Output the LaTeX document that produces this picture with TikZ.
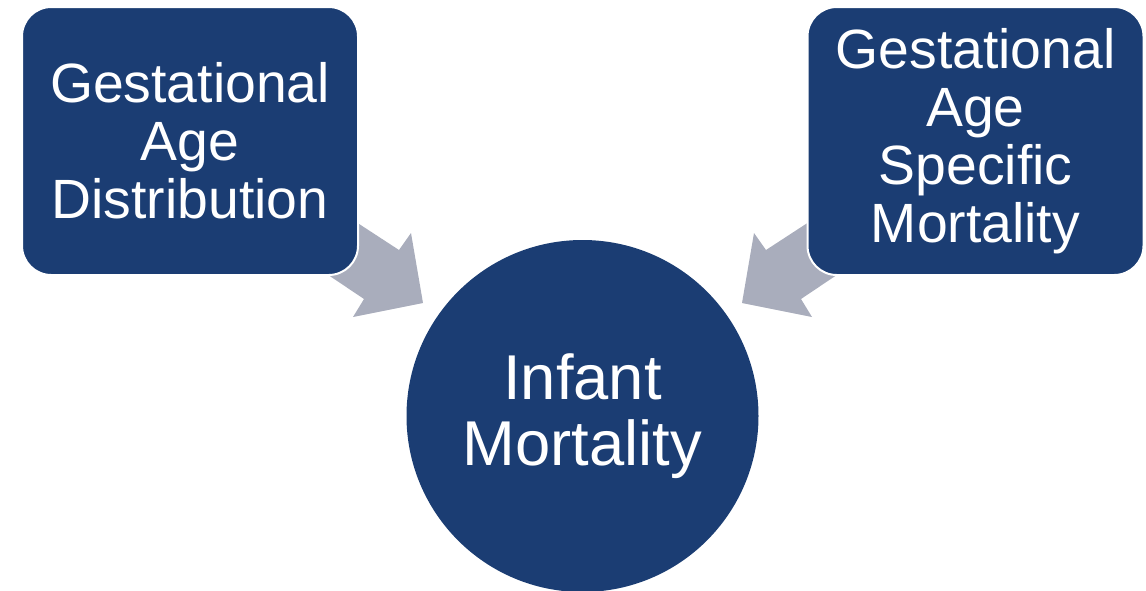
\documentclass[tikz,border=0pt]{standalone}
\usepackage{fontspec}
\setmainfont{Liberation Sans}
\definecolor{boxblue}{HTML}{1B3D73}
\definecolor{arrowgray}{HTML}{A9ADBC}
\begin{document}
\begin{tikzpicture}[x=0.75pt,y=-0.75pt,
  infobox/.style={rectangle, rounded corners=22pt, fill=boxblue, draw=white, line width=1.5pt,
    minimum width=252pt, minimum height=201pt, text=white, align=center,
    font=\fontsize{41.5pt}{43.5pt}\selectfont, inner sep=0pt},
  centre/.style={circle, fill=boxblue, minimum size=264pt, text=white, align=center,
    font=\fontsize{47.5pt}{49pt}\selectfont, inner sep=0pt},
  blockarrow/.style={fill=arrowgray}]
\useasboundingbox (0,0) rectangle (1146,590);
% block arrows (behind boxes)
\fill[blockarrow] (330,205) -- (399,250) -- (411,233) -- (423,303) -- (353,317) -- (364,299) -- (300,256) -- cycle;
\fill[blockarrow] (835,205) -- (766,250) -- (754,233) -- (742,303) -- (812,317) -- (801,299) -- (865,256) -- cycle;
\node[infobox] (dist) at (190,141) {Gestational\\Age\\Distribution};
\node[infobox] (spec) at (975.5,141) {Gestational\\Age\\Specific\\Mortality};
\node[centre] (inf) at (582.5,416) {Infant\\Mortality};
\end{tikzpicture}
\end{document}
